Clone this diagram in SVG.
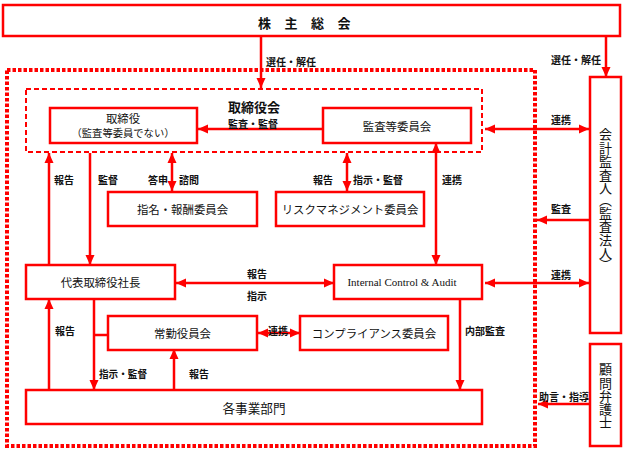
<svg xmlns="http://www.w3.org/2000/svg" width="624" height="456" viewBox="0 0 624 456">
<style>
.box{fill:#fff;stroke:#ff0000;stroke-width:2.5}
.ln{fill:none;stroke:#ff0000;stroke-width:2.5}
.ar{marker-end:url(#ah)}
.da{marker-start:url(#ah);marker-end:url(#ah)}
.t{font-family:"Noto Sans CJK JP","Noto Sans",sans-serif;font-size:11.4px;fill:#111;text-anchor:middle;dominant-baseline:central}
.l{font-family:"Noto Sans CJK JP","Noto Sans",sans-serif;font-size:10px;font-weight:bold;fill:#111;text-anchor:middle;dominant-baseline:central}
.v{font-family:"Noto Sans CJK JP",sans-serif;font-size:13px;fill:#111;text-anchor:middle;dominant-baseline:central}
</style>
<defs>
<marker id="ah" markerUnits="userSpaceOnUse" markerWidth="10" markerHeight="10" viewBox="0 0 10 10" refX="10" refY="5" orient="auto-start-reverse">
<path d="M0,0.5 L10,5 L0,9.5 z" fill="#ff0000"/>
</marker>
</defs>
<rect x="0" y="0" width="624" height="456" fill="#fff"/>

<g id="outer">
<rect x="7" y="70" width="528" height="376" fill="none" stroke="#ff0000" stroke-width="4" stroke-dasharray="3.5 2"/>
</g>
<g id="board">
<rect x="26" y="89" width="456" height="63" fill="none" stroke="#ff0000" stroke-width="2" stroke-dasharray="5 3"/>
<text class="t" x="254" y="106" style="font-size:13px;font-weight:bold">取締役会</text>
</g>

<g id="connectors">
<line class="ln ar" x1="261" y1="37" x2="261" y2="88"/>
<line class="ln ar" x1="606" y1="37" x2="606" y2="77"/>
<line class="ln ar" x1="323" y1="129" x2="198" y2="129"/>
<line class="ln da" x1="485" y1="129" x2="589" y2="129"/>
<line class="ln ar" x1="590" y1="220" x2="537" y2="220"/>
<line class="ln da" x1="485" y1="283" x2="589" y2="283"/>
<line class="ln ar" x1="590" y1="404" x2="538" y2="404"/>
<line class="ln ar" x1="49" y1="265" x2="49" y2="153"/>
<line class="ln ar" x1="90" y1="153" x2="90" y2="265"/>
<line class="ln da" x1="172" y1="153" x2="172" y2="191"/>
<line class="ln da" x1="347" y1="153" x2="347" y2="191"/>
<line class="ln da" x1="436" y1="143" x2="436" y2="265"/>
<line class="ln da" x1="176" y1="283" x2="334" y2="283"/>
<line class="ln da" x1="258" y1="333" x2="300" y2="333"/>
<line class="ln ar" x1="49" y1="390" x2="49" y2="299"/>
<line class="ln ar" x1="94" y1="299" x2="94" y2="390"/>
<line class="ln" x1="94" y1="335" x2="108" y2="335"/>
<line class="ln ar" x1="174" y1="390" x2="174" y2="349"/>
<line class="ln ar" x1="460" y1="299" x2="460" y2="390"/>
</g>

<g id="labels">
<text class="l" x="291" y="61">選任・解任</text>
<text class="l" x="576" y="59">選任・解任</text>
<text class="l" x="253" y="123">監査・監督</text>
<text class="l" x="561" y="119">連携</text>
<text class="l" x="561" y="208">監査</text>
<text class="l" x="561" y="274">連携</text>
<text class="l" x="564" y="396">助言・指導</text>
<text class="l" x="64" y="179">報告</text>
<text class="l" x="108" y="179">監督</text>
<text class="l" x="158" y="179">答申</text>
<text class="l" x="189" y="179">諮問</text>
<text class="l" x="323" y="179">報告</text>
<text class="l" x="378" y="179">指示・監督</text>
<text class="l" x="452" y="179">連携</text>
<text class="l" x="257" y="273">報告</text>
<text class="l" x="257" y="295">指示</text>
<text class="l" x="65" y="330">報告</text>
<text class="l" x="278" y="330">連携</text>
<text class="l" x="123" y="373" textLength="48" lengthAdjust="spacingAndGlyphs">指示・監督</text>
<text class="l" x="199" y="373">報告</text>
<text class="l" x="485" y="330">内部監査</text>
</g>

<g id="agm">
<rect class="box" x="3" y="5" width="617" height="31"/>
<text class="t" x="311" y="22" style="font-size:13px;font-weight:bold" letter-spacing="13.5">株主総会</text>
</g>
<g id="director">
<rect class="box" x="50" y="108" width="147" height="35"/>
<text class="t" x="123" y="118">取締役</text>
<text class="t" x="123" y="132" style="font-size:10.3px">（監査等委員でない）</text>
</g>
<g id="audit-committee">
<rect class="box" x="323" y="108" width="148" height="35"/>
<text class="t" x="397" y="126">監査等委員会</text>
</g>
<g id="nomination">
<rect class="box" x="108" y="192" width="149" height="34"/>
<text class="t" x="182.5" y="209">指名・報酬委員会</text>
</g>
<g id="risk">
<rect class="box" x="276" y="192" width="148" height="34"/>
<text class="t" x="350" y="209">リスクマネジメント委員会</text>
</g>
<g id="president">
<rect class="box" x="26" y="265" width="149" height="34"/>
<text class="t" x="100.5" y="282">代表取締役社長</text>
</g>
<g id="ica">
<rect class="box" x="334" y="265" width="148" height="34"/>
<text class="t" x="402" y="282" style="font-family:'Liberation Serif',serif;font-size:11px">Internal Control &amp; Audit</text>
</g>
<g id="executive">
<rect class="box" x="108" y="316" width="149" height="34"/>
<text class="t" x="182.5" y="333">常勤役員会</text>
</g>
<g id="compliance">
<rect class="box" x="300" y="316" width="148" height="34"/>
<text class="t" x="374" y="333">コンプライアンス委員会</text>
</g>
<g id="divisions">
<rect class="box" x="26" y="390" width="456" height="34"/>
<text class="t" x="254" y="407" style="font-size:12.6px">各事業部門</text>
</g>
<g id="auditor">
<rect class="box" x="590" y="77" width="31" height="256"/>
<text class="v"><tspan x="605.5" y="133">会</tspan><tspan x="605.5" y="146.5">計</tspan><tspan x="605.5" y="160">監</tspan><tspan x="605.5" y="173.5">査</tspan><tspan x="605.5" y="187">人</tspan><tspan x="605.5" y="199">︵</tspan><tspan x="605.5" y="212">監</tspan><tspan x="605.5" y="225">査</tspan><tspan x="605.5" y="238.5">法</tspan><tspan x="605.5" y="252">人</tspan><tspan x="605.5" y="263">︶</tspan></text>
</g>
<g id="lawyer">
<rect class="box" x="590" y="344" width="31" height="102"/>
<text class="v"><tspan x="605.5" y="368">顧</tspan><tspan x="605.5" y="381.5">問</tspan><tspan x="605.5" y="395">弁</tspan><tspan x="605.5" y="408">護</tspan><tspan x="605.5" y="421">士</tspan></text>
</g>
</svg>
